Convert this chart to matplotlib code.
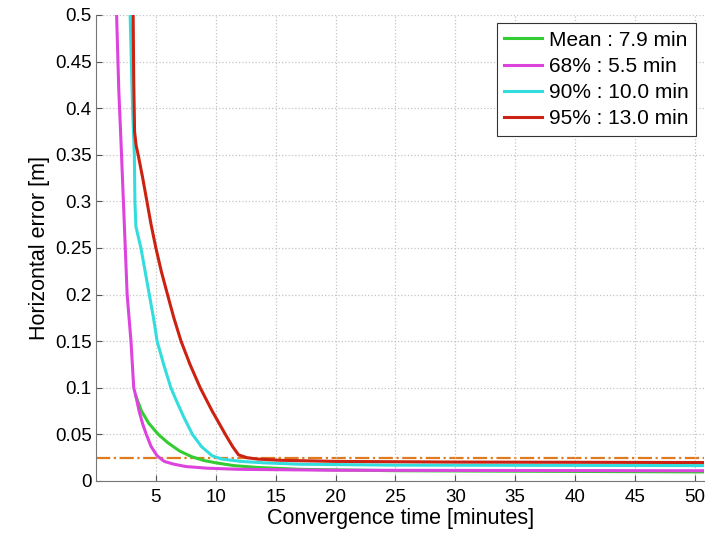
import matplotlib.pyplot as plt

plt.rcParams['font.family'] = ['Liberation Sans', 'DejaVu Sans']

# curve samples (minutes, metres)
x_mean = [3.33, 3.8, 4.4, 5.2, 6.0, 7.0, 8.0, 9.0, 10.0, 11.5, 13.5, 17.0, 25.0, 50.8]
y_mean = [0.091, 0.075, 0.062, 0.05, 0.041, 0.032, 0.026, 0.022, 0.0195, 0.0165, 0.0145, 0.0125, 0.011, 0.0097]

x_68 = [1.72, 1.9, 2.08, 2.35, 2.6, 2.92, 3.15, 3.33, 3.6, 3.9, 4.2, 4.6, 5.1, 5.7, 6.5, 7.5, 9.3, 12.0, 20.0, 50.8]
y_68 = [0.5, 0.42, 0.366, 0.28, 0.2, 0.15, 0.1, 0.091, 0.075, 0.061, 0.05, 0.037, 0.027, 0.021, 0.018, 0.0155, 0.0137, 0.0125, 0.0115, 0.011]

x_90 = [2.85, 3.05, 3.2, 3.25, 3.33, 3.75, 4.1, 4.45, 4.8, 5.1, 5.65, 6.25, 6.75, 7.35, 8.05, 8.8, 9.7, 10.5, 12.1, 14.0, 17.0, 25.0, 50.8]
y_90 = [0.5, 0.4, 0.35, 0.30, 0.273, 0.25, 0.225, 0.2, 0.175, 0.15, 0.125, 0.1, 0.085, 0.068, 0.05, 0.037, 0.027, 0.0235, 0.021, 0.0195, 0.018, 0.017, 0.0165]

x_95 = [3.1, 3.15, 3.22, 3.35, 3.55, 3.9, 4.25, 4.6, 5.0, 5.45, 5.97, 6.5, 7.1, 7.85, 8.7, 9.7, 10.8, 11.4, 11.9, 12.6, 13.5, 15.4, 20.0, 30.0, 50.8]
y_95 = [0.5, 0.43, 0.375, 0.36, 0.348, 0.325, 0.30, 0.275, 0.25, 0.225, 0.2, 0.175, 0.15, 0.125, 0.1, 0.075, 0.05, 0.037, 0.028, 0.025, 0.0235, 0.0222, 0.021, 0.0203, 0.0198]

threshold = 0.025
labels = ['Mean : 7.9 min', '68% : 5.5 min', '90% : 10.0 min', '95% : 13.0 min']

fig = plt.figure(figsize=(7.08, 5.33), dpi=100)
ax = fig.add_axes([0.1356, 0.0976, 0.8594, 0.8743])

ax.axhline(threshold, color='#e07a1f', linestyle='-.', linewidth=1.6, zorder=1)
ax.plot(x_mean, y_mean, color='#33cc33', linewidth=2.2, label=labels[0])
ax.plot(x_68, y_68, color='#dd44dd', linewidth=2.2, label=labels[1])
ax.plot(x_90, y_90, color='#33dddd', linewidth=2.2, label=labels[2])
ax.plot(x_95, y_95, color='#cc2211', linewidth=2.2, label=labels[3])

ax.set_xlim(0, 50.8)
ax.set_ylim(0, 0.5)
ax.set_xticks(range(5, 51, 5))
ax.set_yticks([0, 0.05, 0.1, 0.15, 0.2, 0.25, 0.3, 0.35, 0.4, 0.45, 0.5])
ax.set_yticklabels(['0', '0.05', '0.1', '0.15', '0.2', '0.25', '0.3', '0.35', '0.4', '0.45', '0.5'])
ax.tick_params(direction='in', labelsize=13.5, length=4, color='#555555', pad=3)
ax.tick_params(axis='x', pad=6)
ax.grid(True, linestyle=':', color='#c4c4c4', linewidth=0.9)

for side in ['top', 'right']:
    ax.spines[side].set_visible(False)
for side in ['left', 'bottom']:
    ax.spines[side].set_color('#777777')

ax.set_xlabel('Convergence time [minutes]', fontsize=15.5, labelpad=1)
ax.set_ylabel('Horizontal error [m]', fontsize=15.5, labelpad=4)

leg = ax.legend(loc='upper right', fontsize=15, fancybox=False, framealpha=1,
                edgecolor='#333333', borderaxespad=0.4, handlelength=1.8,
                handletextpad=0.35, labelspacing=0.35, borderpad=0.35)
leg.get_frame().set_linewidth(0.8)

fig.savefig('out.png', dpi=100)
